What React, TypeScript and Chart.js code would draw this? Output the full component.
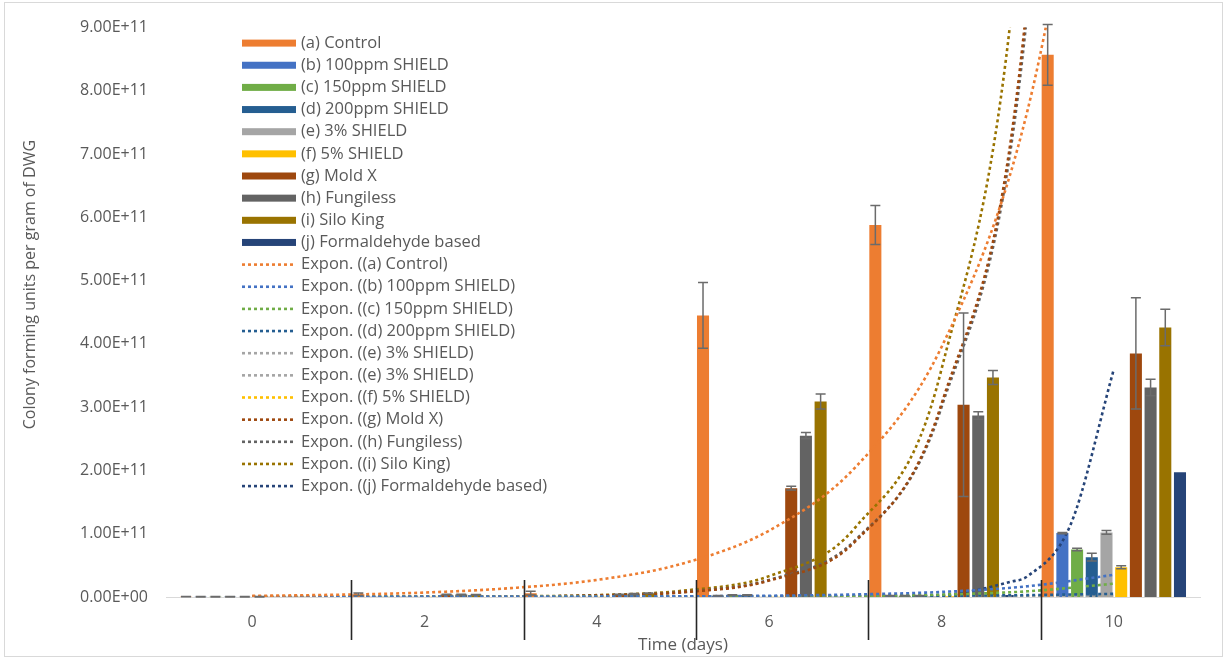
import React, { useEffect, useRef } from 'react';
import { Chart, registerables } from 'chart.js';

Chart.register(...registerables);

// ---------- data ----------
const CATEGORIES = ['0', '2', '4', '6', '8', '10'];
const CATEGORY_DAYS = [0, 2, 4, 6, 8, 10];

const SERIES_LABELS = [
  '(a) Control',
  '(b) 100ppm SHIELD',
  '(c) 150ppm SHIELD',
  '(d) 200ppm SHIELD',
  '(e) 3% SHIELD',
  '(f) 5% SHIELD',
  '(g) Mold X',
  '(h) Fungiless',
  '(i) Silo King',
  '(j) Formaldehyde based',
];

const SERIES_COLORS = [
  '#ED7D31', '#4472C4', '#70AD47', '#255E91', '#A5A5A5',
  '#FFC000', '#9E480E', '#636363', '#997300', '#264478',
];

// bar values (CFU per gram DWG) at days 0,2,4,6,8,10
const CONTROL = [0.005e11, 0.045e11, 0.06e11, 4.45e11, 5.88e11, 8.57e11];
const PPM100 = [0.004e11, 0.002e11, 0.002e11, 0.02e11, 0.02e11, 1.01e11];
const PPM150 = [0.004e11, 0.002e11, 0.002e11, 0.03e11, 0.02e11, 0.75e11];
const PPM200 = [0.004e11, 0.002e11, 0.002e11, 0.03e11, 0.02e11, 0.63e11];
const PCT3 = [0.004e11, 0.002e11, 0.002e11, 0.005e11, 0.01e11, 1.02e11];
const PCT5 = [0.004e11, 0.002e11, 0.002e11, 0.005e11, 0.01e11, 0.47e11];
const MOLDX = [0.002e11, 0.04e11, 0.04e11, 1.72e11, 3.04e11, 3.85e11];
const FUNGILESS = [0.002e11, 0.04e11, 0.05e11, 2.55e11, 2.87e11, 3.31e11];
const SILOKING = [0.002e11, 0.035e11, 0.06e11, 3.09e11, 3.47e11, 4.26e11];
const FORMALDEHYDE = [0.001e11, 0.001e11, 0.001e11, 0.005e11, 0.03e11, 1.97e11];

// error bar half-lengths
const CONTROL_ERR = [0.003e11, 0.02e11, 0.03e11, 0.52e11, 0.31e11, 0.48e11];
const PPM100_ERR = [0.003e11, 0, 0, 0.005e11, 0.005e11, 0.01e11];
const PPM150_ERR = [0.003e11, 0, 0, 0.005e11, 0.005e11, 0.02e11];
const PPM200_ERR = [0.003e11, 0, 0, 0.005e11, 0.005e11, 0.06e11];
const PCT3_ERR = [0.003e11, 0, 0, 0, 0, 0.03e11];
const PCT5_ERR = [0.003e11, 0, 0, 0, 0, 0.025e11];
const MOLDX_ERR = [0, 0.005e11, 0.005e11, 0.03e11, 1.45e11, 0.88e11];
const FUNGILESS_ERR = [0, 0.005e11, 0.005e11, 0.05e11, 0.06e11, 0.13e11];
const SILOKING_ERR = [0, 0.005e11, 0.005e11, 0.12e11, 0.11e11, 0.29e11];
const FORMALDEHYDE_ERR = [0, 0, 0, 0, 0, 0];

const BAR_VALUES = [CONTROL, PPM100, PPM150, PPM200, PCT3, PCT5, MOLDX, FUNGILESS, SILOKING, FORMALDEHYDE];
const BAR_ERRORS = [CONTROL_ERR, PPM100_ERR, PPM150_ERR, PPM200_ERR, PCT3_ERR, PCT5_ERR, MOLDX_ERR, FUNGILESS_ERR, SILOKING_ERR, FORMALDEHYDE_ERR];

// exponential trendlines, values (days)
const TREND_DAYS = [0, 1, 2, 3, 4, 5, 6, 7, 8, 9, 10];
const TREND_A = [0.018e11, 0.036e11, 0.07e11, 0.14e11, 0.27e11, 0.53e11, 1.05e11, 2.05e11, 3.95e11, 7.7e11, 15e11];
const TREND_B = [0.0003e11, 0.0006e11, 0.0012e11, 0.0025e11, 0.005e11, 0.01e11, 0.02e11, 0.04e11, 0.08e11, 0.17e11, 0.35e11];
const TREND_C = [0.0001e11, 0.0002e11, 0.0004e11, 0.0009e11, 0.002e11, 0.004e11, 0.009e11, 0.018e11, 0.038e11, 0.09e11, 0.21e11];
const TREND_D = [0.001e11, 0.0015e11, 0.002e11, 0.003e11, 0.005e11, 0.007e11, 0.01e11, 0.015e11, 0.02e11, 0.03e11, 0.05e11];
const TREND_E = [0.001e11, 0.0013e11, 0.0017e11, 0.0022e11, 0.003e11, 0.004e11, 0.005e11, 0.007e11, 0.009e11, 0.012e11, 0.016e11];
const TREND_F = [0.0005e11, 0.0007e11, 0.001e11, 0.0014e11, 0.002e11, 0.003e11, 0.004e11, 0.006e11, 0.008e11, 0.011e11, 0.015e11];
const TREND_G = [0.0002e11, 0.0006e11, 0.002e11, 0.007e11, 0.023e11, 0.075e11, 0.26e11, 0.88e11, 3.05e11, 9.5e11, 31e11];
const TREND_H = [0.0002e11, 0.0006e11, 0.002e11, 0.007e11, 0.024e11, 0.08e11, 0.27e11, 0.9e11, 3.0e11, 9.3e11, 30e11];
const TREND_I = [0.0003e11, 0.001e11, 0.003e11, 0.01e11, 0.03e11, 0.1e11, 0.33e11, 1.1e11, 3.6e11, 12e11, 38e11];
const TREND_J_DAYS = [0, 2, 4, 6, 7, 8, 8.8, 9, 9.5, 10];
const TREND_J = [0.00001e11, 0.00005e11, 0.0003e11, 0.002e11, 0.008e11, 0.03e11, 0.24e11, 0.33e11, 1.15e11, 3.6e11];

const TRENDS = [
  { label: 'Expon. ((a) Control)', color: '#ED7D31', days: TREND_DAYS, values: TREND_A },
  { label: 'Expon. ((b) 100ppm SHIELD)', color: '#4472C4', days: TREND_DAYS, values: TREND_B },
  { label: 'Expon. ((c) 150ppm SHIELD)', color: '#70AD47', days: TREND_DAYS, values: TREND_C },
  { label: 'Expon. ((d) 200ppm SHIELD)', color: '#255E91', days: TREND_DAYS, values: TREND_D },
  { label: 'Expon. ((e) 3% SHIELD)', color: '#A5A5A5', days: TREND_DAYS, values: TREND_E },
  { label: 'Expon. ((e) 3% SHIELD)', color: '#A5A5A5', days: TREND_DAYS, values: TREND_E },
  { label: 'Expon. ((f) 5% SHIELD)', color: '#FFC000', days: TREND_DAYS, values: TREND_F },
  { label: 'Expon. ((g) Mold X)', color: '#9E480E', days: TREND_DAYS, values: TREND_G },
  { label: 'Expon. ((h) Fungiless)', color: '#636363', days: TREND_DAYS, values: TREND_H },
  { label: 'Expon. ((i) Silo King)', color: '#997300', days: TREND_DAYS, values: TREND_I },
  { label: 'Expon. ((j) Formaldehyde based)', color: '#264478', days: TREND_J_DAYS, values: TREND_J },
];

const X_MIN = -1;
const X_MAX = 11;
const Y_MAX = 9e11;
const Y_STEP = 1e11;
const X_TITLE = 'Time (days)';
const Y_TITLE = 'Colony forming units per gram of DWG';

// ---------- styling ----------
const FONT = '"Open Sans", "DejaVu Sans", sans-serif';
const TEXT = '#595959';
const DOT_DASH = [3, 3];

const fmtSci = (v: number) => {
  if (Math.abs(v) < 1e-6) return '0.00E+00';
  const e = Math.floor(Math.log10(Math.abs(v)) + 1e-9);
  const m = v / Math.pow(10, e);
  return m.toFixed(2) + 'E' + (e >= 0 ? '+' : '-') + String(Math.abs(e)).padStart(2, '0');
};

const errorBarPlugin = {
  id: 'errorBars',
  afterDatasetsDraw(chart: any) {
    const { ctx } = chart;
    const ys = chart.scales.y;
    ctx.save();
    ctx.strokeStyle = '#6b6b6b';
    ctx.lineWidth = 1.5;
    chart.data.datasets.forEach((ds: any, i: number) => {
      if (!ds.errors) return;
      const meta = chart.getDatasetMeta(i);
      meta.data.forEach((bar: any, j: number) => {
        const e = ds.errors[j];
        if (!e) return;
        const v = ds.data[j].y;
        const yt = ys.getPixelForValue(v + e);
        const yb = ys.getPixelForValue(Math.max(v - e, 0));
        const x = bar.x;
        const hw = 5;
        ctx.beginPath();
        ctx.moveTo(x, yt);
        ctx.lineTo(x, yb);
        ctx.moveTo(x - hw, yt);
        ctx.lineTo(x + hw, yt);
        ctx.moveTo(x - hw, yb);
        ctx.lineTo(x + hw, yb);
        ctx.stroke();
      });
    });
    ctx.restore();
  },
};

const decorPlugin = {
  id: 'decor',
  afterDraw(chart: any) {
    const { ctx, chartArea } = chart;
    ctx.save();
    // separators at the left of each group from day 2 on
    const meta0 = chart.getDatasetMeta(0);
    ctx.strokeStyle = '#262626';
    ctx.lineWidth = 1.6;
    meta0.data.forEach((bar: any, j: number) => {
      if (j === 0) return;
      const x = Math.round(bar.x - bar.width / 2 - 1) + 0.5;
      ctx.beginPath();
      ctx.moveTo(x, chartArea.bottom - 17);
      ctx.lineTo(x, chartArea.bottom + 43);
      ctx.stroke();
    });

    // legend inside the plot
    const x0 = chartArea.left + 76;
    const sw = 54;
    ctx.font = '16.5px ' + FONT;
    ctx.textBaseline = 'middle';
    ctx.textAlign = 'left';
    chart.data.datasets.forEach((ds: any, i: number) => {
      const yc = chartArea.top + 15.5 + i * 22.15;
      if (ds.type === 'line') {
        ctx.save();
        ctx.strokeStyle = ds.borderColor;
        ctx.lineWidth = 2.6;
        ctx.setLineDash(DOT_DASH);
        ctx.beginPath();
        ctx.moveTo(x0, yc);
        ctx.lineTo(x0 + sw, yc);
        ctx.stroke();
        ctx.restore();
      } else {
        ctx.fillStyle = ds.backgroundColor;
        ctx.fillRect(x0, yc - 3.5, sw, 7);
      }
      ctx.fillStyle = TEXT;
      ctx.fillText(ds.label, x0 + sw + 5, yc);
    });

    // y-axis title
    ctx.save();
    ctx.translate(30, chartArea.top + 257);
    ctx.rotate(-Math.PI / 2);
    ctx.textAlign = 'center';
    ctx.textBaseline = 'middle';
    ctx.font = '16px ' + FONT;
    ctx.fillStyle = TEXT;
    ctx.fillText(Y_TITLE, 0, 0);
    ctx.restore();

    // chart border
    ctx.strokeStyle = '#d9d9d9';
    ctx.lineWidth = 1;
    ctx.strokeRect(4.5, 2.5, 1218, 654);
    ctx.restore();
  },
};

export default function App() {
  const ref = useRef<HTMLCanvasElement | null>(null);

  useEffect(() => {
    document.body.style.margin = '0';
    const canvas = ref.current;
    if (!canvas) return;

    const barSets = BAR_VALUES.map((vals, i) => ({
      type: 'bar' as const,
      label: SERIES_LABELS[i],
      data: vals.map((v, k) => ({ x: CATEGORY_DAYS[k], y: v })),
      errors: BAR_ERRORS[i],
      backgroundColor: SERIES_COLORS[i],
      borderWidth: 0,
      categoryPercentage: 0.853,
      barPercentage: 0.82,
      order: 1,
    }));

    const trendSets = TRENDS.map((t) => ({
      type: 'line' as const,
      label: t.label,
      data: t.days.map((d, k) => ({ x: d, y: t.values[k] })),
      borderColor: t.color,
      backgroundColor: t.color,
      borderWidth: 2.6,
      borderDash: DOT_DASH,
      borderCapStyle: 'butt',
      pointRadius: 0,
      fill: false,
      cubicInterpolationMode: 'monotone',
      capBezierPoints: false,
      order: 0,
    }));

    const chart = new Chart(canvas, {
      type: 'bar',
      data: {
        labels: CATEGORIES,
        datasets: [...barSets, ...trendSets] as any,
      },
      options: {
        animation: false,
        responsive: false,
        devicePixelRatio: 1,
        layout: { padding: { top: 26, right: 27, bottom: 0, left: 0 } },
        plugins: {
          legend: { display: false },
          tooltip: { enabled: false },
        },
        font: { family: FONT },
        scales: {
          x: {
            type: 'linear',
            min: X_MIN,
            max: X_MAX,
            offset: false,
            grid: { display: false, drawTicks: false },
            border: { display: true, color: '#d9d9d9', width: 1 },
            afterBuildTicks: (s: any) => {
              s.ticks = CATEGORY_DAYS.map((d) => ({ value: d }));
            },
            ticks: {
              color: TEXT,
              font: { size: 16, family: FONT },
              padding: 16,
              autoSkip: false,
              maxRotation: 0,
              callback: (v: any, idx: number) => CATEGORIES[idx] ?? String(v),
            },
            title: {
              display: true,
              text: X_TITLE,
              color: TEXT,
              font: { size: 17, family: FONT },
              padding: { top: 0, bottom: 3 },
            },
            afterFit: (s: any) => { s.height = 61; },
          },
          y: {
            type: 'linear',
            min: 0,
            max: Y_MAX,
            grid: { display: false, drawTicks: false },
            border: { display: false },
            ticks: {
              stepSize: Y_STEP,
              color: TEXT,
              font: { size: 16, family: FONT },
              padding: 18,
              callback: (v: any) => fmtSci(Number(v)),
            },
            afterFit: (s: any) => { s.width = 166; },
          },
        },
      } as any,
      plugins: [errorBarPlugin, decorPlugin],
    });

    return () => chart.destroy();
  }, []);

  return (
    <div style={{ position: 'fixed', left: 0, top: 0, width: 1227, height: 658, background: '#fff' }}>
      <canvas ref={ref} width={1227} height={658} style={{ width: 1227, height: 658, display: 'block' }} />
    </div>
  );
}
